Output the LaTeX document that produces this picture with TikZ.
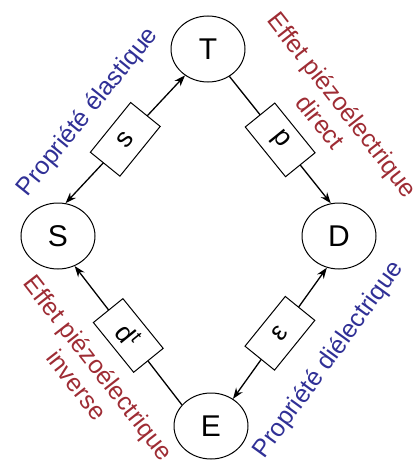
\documentclass[tikz,border=0pt]{standalone}
\usepackage{fontspec}
\setmainfont{Liberation Sans}
\usetikzlibrary{arrows.meta,shapes.geometric}
\definecolor{lblue}{RGB}{48,48,150}
\definecolor{lred}{RGB}{158,44,52}
\begin{document}
\begin{tikzpicture}[x=1pt,y=-1pt,
  state/.style={ellipse, draw, line width=1pt, minimum width=74pt, minimum height=66pt, inner sep=0pt, font=\fontsize{30}{30}\selectfont},
  coef/.style={draw, fill=white, line width=1pt, minimum width=64pt, minimum height=38pt, inner sep=0pt, font=\fontsize{27}{27}\selectfont},
  conn/.style={line width=1.3pt},
  onehead/.style={-{Stealth[length=11pt,width=8pt]}},
  twohead/.style={{Stealth[length=11pt,width=8pt]}-{Stealth[length=11pt,width=8pt]}},
  lbl/.style={align=center, inner sep=0pt, font=\fontsize{25}{28}\selectfont}
]
\useasboundingbox (0,0) rectangle (417,471);
\node[state] (T) at (208,49) {T};
\node[state] (S) at (58,236) {S};
\node[state] (D) at (339,236) {D};
\node[state] (E) at (211,426) {E};

\draw[conn, twohead] (S.77) -- node[coef, rotate=51] (cs) {s} (T.229);
\draw[conn, onehead] (T.-52) -- node[coef, rotate=129] (cd) {d} (D.104);
\draw[conn, onehead] (E.144) -- node[coef, rotate=-51] (cdt) {d\textsuperscript{t}} (S.-61);
\draw[conn, twohead] (E.51) -- node[coef, rotate=51] (ce) {ε} (D.249);

\node[lbl, text=lblue, rotate=51] (pe) at (88,112) {Propriété élastique};
\node[lbl, text=lred, rotate=-52] (ed) at (332,113) {Effet piézoélectrique\\direct};
\node[lbl, text=lred, rotate=-52] (ei) at (88,376) {Effet piézoélectrique\\inverse};
\node[lbl, text=lblue, rotate=54] (pd) at (329,360) {Propriété diélectrique};
\end{tikzpicture}
\end{document}
